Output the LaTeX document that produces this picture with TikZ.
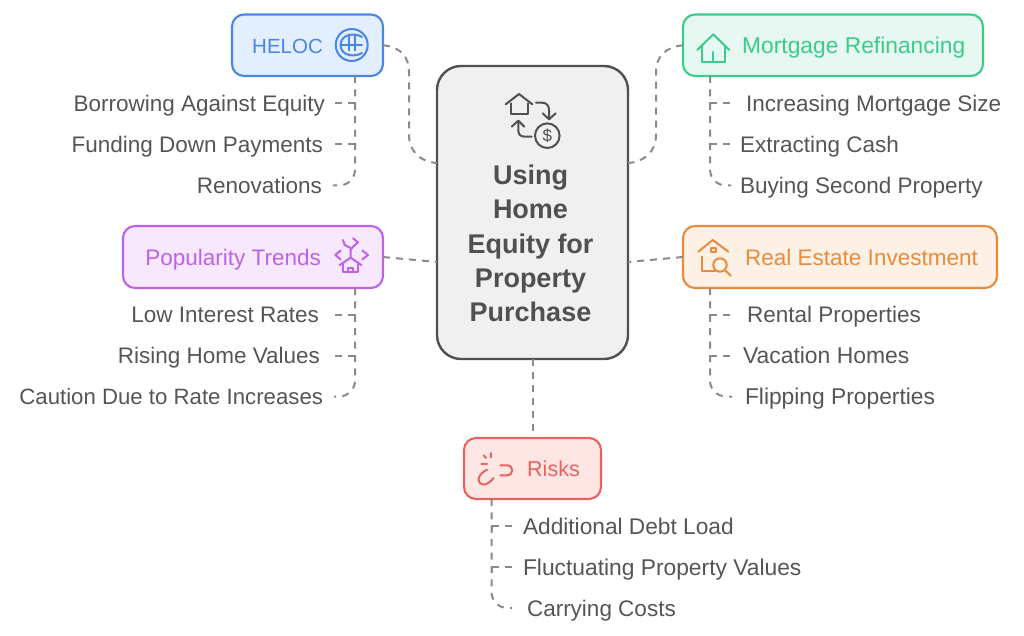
\documentclass[tikz,border=0pt]{standalone}
\usepackage{fontspec}
\setmainfont{Liberation Sans}
\definecolor{cblue}{HTML}{4A86E8}\definecolor{fblue}{HTML}{E3EEFE}
\definecolor{cgreen}{HTML}{3CCB8A}\definecolor{fgreen}{HTML}{E6F8F1}
\definecolor{cpurple}{HTML}{BE62E8}\definecolor{fpurple}{HTML}{F7E8FD}
\definecolor{corange}{HTML}{E88C3C}\definecolor{forange}{HTML}{FDF0E4}
\definecolor{cred}{HTML}{E8625F}\definecolor{fred}{HTML}{FEE6E5}
\definecolor{cdark}{HTML}{505050}\definecolor{fcenter}{HTML}{F0F0F0}
\definecolor{cline}{HTML}{8A8A8A}\definecolor{ctext}{HTML}{555555}
\tikzset{
  x=1pt,y=-1pt,
  box/.style={draw=#1,line width=2.1pt,rounded corners=12pt,anchor=north west,inner sep=0pt,outer sep=0pt},
  title/.style={font=\fontsize{22.5}{24}\selectfont,text=#1,inner sep=0pt},
  leaf/.style={font=\fontsize{22.5}{24}\selectfont,text=ctext,inner sep=0pt,outer sep=0pt,text height=20pt,text depth=4pt},
  conn/.style={draw=cline,line width=2pt,dash pattern=on 7pt off 6pt},
  branch/.style={draw=cline,line width=2pt,dash pattern=on 6.7pt off 6.6pt on 12pt off 100pt},
  trunkend/.style={conn,rounded corners=16pt,dash pattern=on 7pt off 6.4pt},
  icon/.style={draw=#1,line width=2pt,line cap=round,line join=round,fill=none},
}
\newcommand{\bx}[7]{\node[box=#6,fill=#7,minimum width=#4pt-#2pt,minimum height=#5pt-#3pt] (#1) at (#2,#3) {};}
\begin{document}
\begin{tikzpicture}
\useasboundingbox (0,0) rectangle (1024,636);
% boxes
\bx{heloc}{232}{14.5}{383}{76}{cblue}{fblue}
\bx{mort}{683}{14.5}{983}{76}{cgreen}{fgreen}
\bx{pop}{123}{226}{383}{288}{cpurple}{fpurple}
\bx{real}{683}{226}{997}{288}{corange}{forange}
\bx{risk}{464}{438}{601}{499}{cred}{fred}
\node[draw=cdark,fill=fcenter,line width=2.4pt,rounded corners=24pt,anchor=north west,inner sep=0pt,outer sep=0pt,minimum width=191pt,minimum height=293pt] (center) at (437,66) {};
% titles
\node[title=cblue,anchor=base west,font=\fontsize{20.5}{24}\selectfont] (theloc) at (252,53.5) {HELOC};
\node[title=cgreen,anchor=base west,font=\fontsize{22.8}{24}\selectfont] (tmort) at (742,53.5) {Mortgage Refinancing};
\node[title=cpurple,anchor=base east] (tpop) at (321,265) {Popularity Trends};
\node[title=corange,anchor=base west] (treal) at (745,265) {Real Estate Investment};
\node[title=cred,anchor=base west,font=\fontsize{21.5}{24}\selectfont] (trisk) at (527,476) {Risks};
% centre label
\node[font=\bfseries\fontsize{27}{34.2}\selectfont,text=cdark,align=center,inner sep=0pt] (tcenter) at (530.5,243.5) {Using\\Home\\Equity for\\Property\\Purchase};
% leaves
\node[leaf,anchor=east] (a1) at (325,103.5) {Borrowing Against Equity};
\node[leaf,anchor=east] (a2) at (323,144.5) {Funding Down Payments};
\node[leaf,anchor=east] (a3) at (322,185.5) {Renovations};
\node[leaf,anchor=west] (b1) at (746,103.5) {Increasing Mortgage Size};
\node[leaf,anchor=west] (b2) at (740,144.5) {Extracting Cash};
\node[leaf,anchor=west] (b3) at (740,185.5) {Buying Second Property};
\node[leaf,anchor=east] (c1) at (319,314.5) {Low Interest Rates};
\node[leaf,anchor=east] (c2) at (320,355.5) {Rising Home Values};
\node[leaf,anchor=east,font=\fontsize{22.2}{24}\selectfont] (c3) at (323,396.5) {Caution Due to Rate Increases};
\node[leaf,anchor=west] (d1) at (747,314.5) {Rental Properties};
\node[leaf,anchor=west,font=\fontsize{22.9}{24}\selectfont] (d2) at (743,355.5) {Vacation Homes};
\node[leaf,anchor=west,font=\fontsize{22.8}{24}\selectfont] (d3) at (745,396.5) {Flipping Properties};
\node[leaf,anchor=west,font=\fontsize{22.7}{24}\selectfont] (e1) at (523,526) {Additional Debt Load};
\node[leaf,anchor=west,font=\fontsize{22.8}{24}\selectfont] (e2) at (523,567) {Fluctuating Property Values};
\node[leaf,anchor=west] (e3) at (527,608) {Carrying Costs};
% trunk points
\coordinate (ta) at ([xshift=47.5pt]heloc.south);
\coordinate (tb) at ([xshift=-123pt]mort.south);
\coordinate (tc) at ([xshift=102pt]pop.south);
\coordinate (td) at ([xshift=-130pt]real.south);
\coordinate (te) at ([xshift=-41pt]risk.south);
% main connectors
\draw[conn] (heloc.east) .. controls (400,47) and (409,56) .. (409,72) -- (409,135) .. controls (409,151) and (420,162) .. ([yshift=49.5pt]center.west);
\draw[conn] (mort.west) .. controls (666,47) and (656,56) .. (656,72) -- (656,135) .. controls (656,151) and (645,162) .. ([yshift=49.5pt]center.east);
\draw[conn] (pop.east) -- ([yshift=-49.5pt]center.west);
\draw[conn] (real.west) -- ([yshift=-49.5pt]center.east);
\draw[conn] (center.south) -- (risk.north);
% leaf connectors
\draw[branch] ([xshift=10pt]a1.east) -- (ta |- a1.east) -- ++(0,5);
\draw[branch] ([xshift=12pt]a2.east) -- (ta |- a2.east) -- ++(0,5);
\draw[trunkend] (ta) -- (ta |- a3.east) -- ([xshift=11pt]a3.east);
\draw[branch] ([xshift=-16pt]b1.west) -- (tb |- b1.west) -- ++(0,5);
\draw[branch] ([xshift=-10pt]b2.west) -- (tb |- b2.west) -- ++(0,5);
\draw[trunkend] (tb) -- (tb |- b3.west) -- ([xshift=-9pt]b3.west);
\draw[branch] ([xshift=16pt]c1.east) -- (tc |- c1.east) -- ++(0,5);
\draw[branch] ([xshift=15pt]c2.east) -- (tc |- c2.east) -- ++(0,5);
\draw[trunkend] (tc) -- (tc |- c3.east) -- ([xshift=11pt]c3.east);
\draw[branch] ([xshift=-17pt]d1.west) -- (td |- d1.west) -- ++(0,5);
\draw[branch] ([xshift=-13pt]d2.west) -- (td |- d2.west) -- ++(0,5);
\draw[trunkend] (td) -- (td |- d3.west) -- ([xshift=-13pt]d3.west);
\draw[branch] ([xshift=-11pt]e1.west) -- (te |- e1.west) -- ++(0,5);
\draw[branch] ([xshift=-11pt]e2.west) -- (te |- e2.west) -- ++(0,5);
\draw[trunkend] (te) -- (te |- e3.west) -- ([xshift=-15pt]e3.west);
% icons
% heloc
\draw[icon=cblue] (351.7,45) circle (16);
\draw[icon=cblue] (362,37) .. controls (356,33) and (341,33) .. (340.5,45) .. controls (341,57) and (356,57) .. (362,53);
\draw[icon=cblue] (340.5,45) -- (362,45) (349,34.5) -- (349,50.5) (355,34.5) -- (355,50.5);
\draw[icon=cblue] (349,54.5) -- (349,55.5) (355,54.5) -- (355,55.5);
% mortgage house
\draw[icon=cgreen] (697.3,50) -- (713.3,34.3) -- (729.3,50);
\draw[icon=cgreen] (701.7,45.5) -- (701.7,61.7) -- (725,61.7) -- (725,45.5);
\draw[icon=cgreen] (713.3,52) -- (713.3,61.7);
% popularity
\draw[icon=cpurple] (340.7,250.5) -- (335.3,255) -- (340.7,259.5);
\draw[icon=cpurple] (362.3,250.5) -- (368,255) -- (362.3,259.5);
\draw[icon=cpurple] (343,240) -- (344.7,245) -- (350.7,248) -- (350.7,257);
\draw[icon=cpurple] (353,238.3) -- (358,242.3) -- (353,246.7) -- (350.7,250);
\draw[icon=cpurple] (339.7,265) -- (350.7,257.7) -- (361.3,265);
\draw[icon=cpurple] (343,264.3) -- (343,272.3) -- (358,272.3) -- (358,264.3);
\draw[icon=cpurple] (348,272.3) -- (348,268) -- (353,268) -- (353,272.3);
% real estate
\draw[icon=corange] (698.3,251.7) -- (712.7,240) -- (728.3,251.7);
\draw[icon=corange] (701.7,256.7) -- (701.7,271) -- (715,271);
\draw[icon=corange] (710.7,247.7) rectangle (716,252.3);
\draw[icon=corange] (720,265) circle (6.7);
\draw[icon=corange] (724.8,270) -- (730.7,275.7);
% risks
\draw[icon=cred] (487,469.7) .. controls (479,474) and (476.5,480) .. (480,483) .. controls (483,486) and (488,485) .. (493.7,478);
\draw[icon=cred] (500.3,465.3) -- (507,465.3) .. controls (514,465.3) and (514,475.3) .. (507,475.3) -- (500.3,475.3);
\draw[icon=cred] (481.3,464) -- (487,464);
\draw[icon=cred] (483.7,455.3) -- (486,458);
\draw[icon=cred] (491.3,453) -- (491.3,457.3);
% centre icon
\draw[icon=cdark] (505.7,104.3) -- (519,94) -- (532.3,104.3);
\draw[icon=cdark] (510.7,103.3) -- (510.7,114.3) -- (527.7,114.3) -- (527.7,103.3);
\draw[icon=cdark] (536,102.7) -- (542,102.7) .. controls (547,102.7) and (549,106) .. (549,110) -- (549,118.3);
\draw[icon=cdark] (542.7,113.3) -- (549,119.3) -- (555.7,113.3);
\draw[icon=cdark] (531.7,136.7) -- (525,136.7) .. controls (520,136.7) and (518.3,134) .. (518.3,130) -- (518.3,121.7);
\draw[icon=cdark] (511.7,126.7) -- (518.3,120.7) -- (524.3,126.7);
\draw[icon=cdark] (547.3,135.7) circle (12.3);
\node[font=\fontsize{17}{17}\selectfont,text=cdark,inner sep=0pt] (dollar) at (547.3,135.7) {\$};
\end{tikzpicture}
\end{document}
